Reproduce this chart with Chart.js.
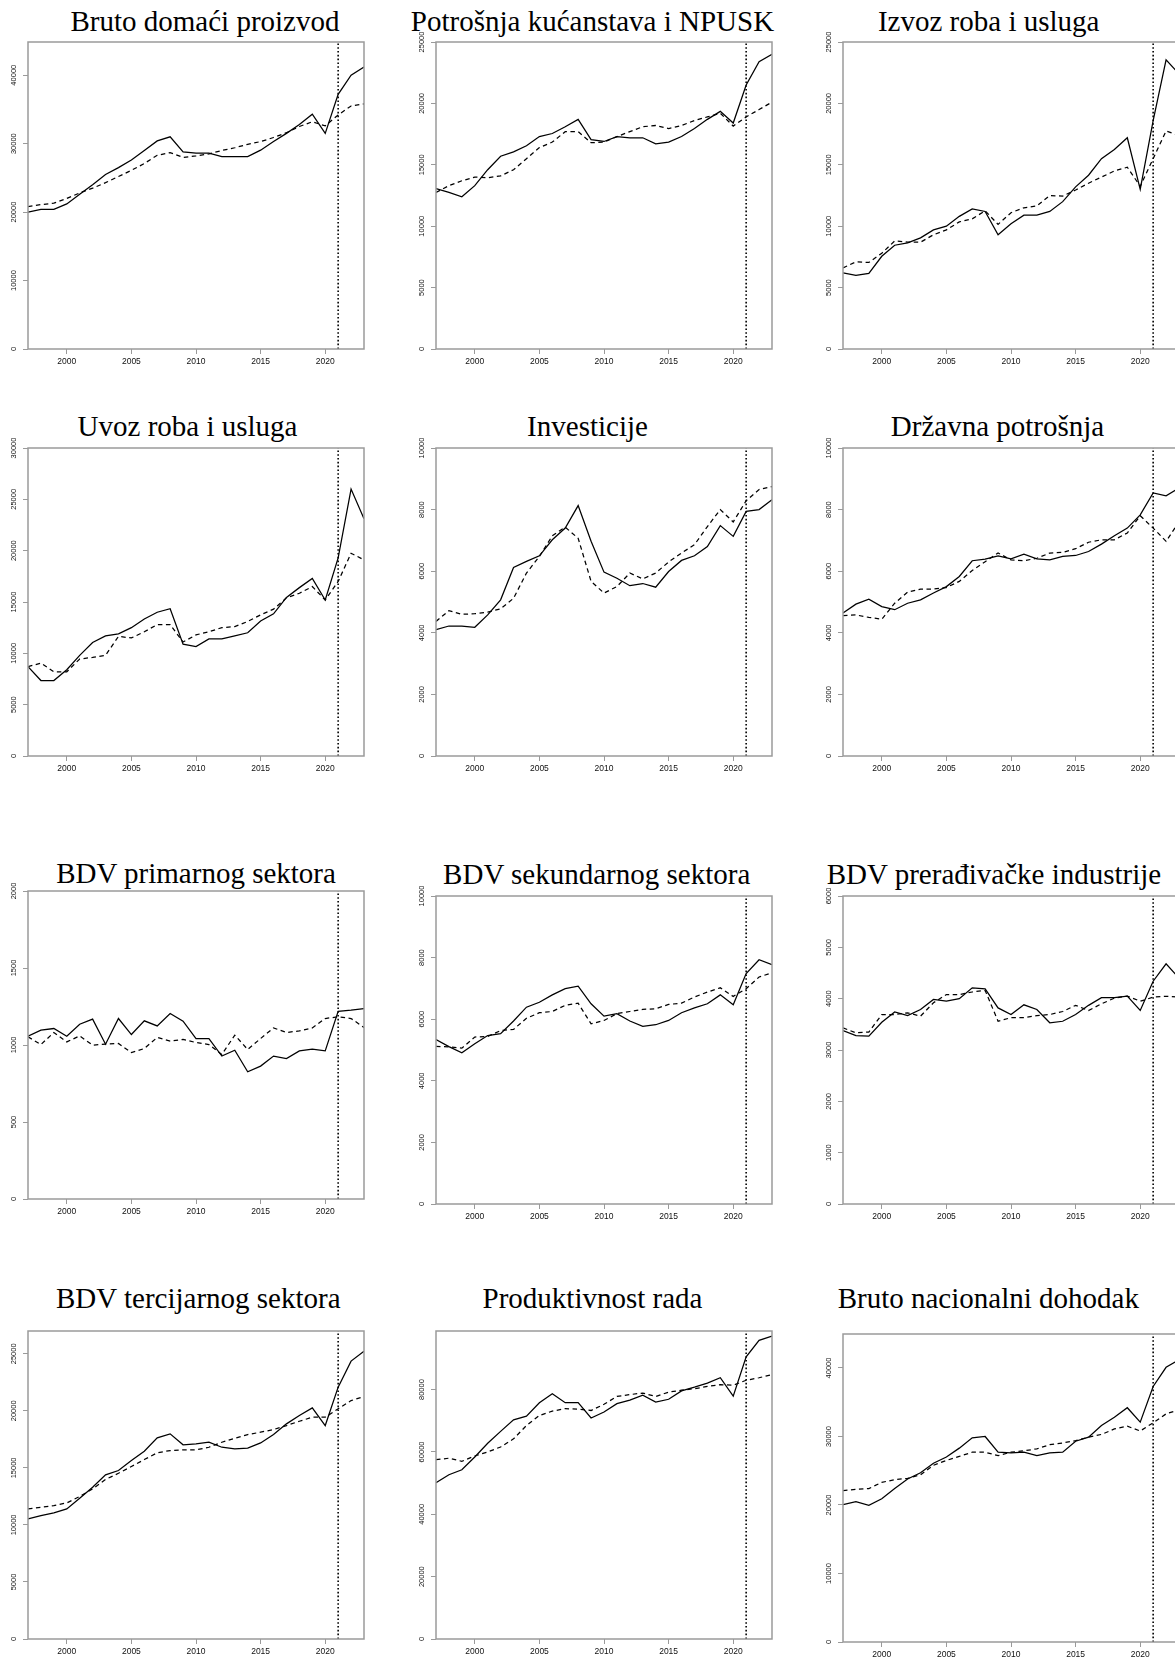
<!DOCTYPE html>
<html>
<head>
<meta charset="utf-8">
<script src="https://cdn.jsdelivr.net/npm/chart.js@4.4.1/dist/chart.umd.min.js"></script>
<style>
html, body { margin: 0; padding: 0; background: #fff; }
body { width: 1175px; height: 1661px; overflow: hidden; position: relative; }
.panel { position: absolute; }
.ttl {
  position: absolute; white-space: nowrap; color: #000;
  font-family: "Liberation Serif", "Times New Roman", serif;
  font-size: 29px; line-height: 29px; transform: translateX(-50%);
}
</style>
</head>
<body>
<script>
// years on the x axis and the start of the forecast (dotted line)
const years = [1997,1998,1999,2000,2001,2002,2003,2004,2005,2006,2007,2008,2009,2010,2011,2012,2013,2014,2015,2016,2017,2018,2019,2020,2021,2022,2023];
const forecastStart = 2021;
const xTicks = [2000, 2005, 2010, 2015, 2020];

const titles = [
  "Bruto domaći proizvod", "Potrošnja kućanstava i NPUSK", "Izvoz roba i usluga",
  "Uvoz roba i usluga", "Investicije", "Državna potrošnja",
  "BDV primarnog sektora", "BDV sekundarnog sektora", "BDV prerađivačke industrije",
  "BDV tercijarnog sektora", "Produktivnost rada", "Bruto nacionalni dohodak"
];

// solid = actual, dashed = model
const bdpActual = [20000,20400,20400,21200,22600,24000,25500,26500,27600,29000,30400,31000,28800,28600,28600,28100,28100,28100,29050,30300,31500,32800,34300,31500,37200,40000,41200];
const bdpModel = [20800,21100,21300,22000,22800,23500,24300,25200,26100,27100,28300,28700,28000,28200,28500,29000,29400,29900,30300,30900,31600,32500,33200,32600,34200,35500,35800];

const potrosnjaActual = [13070,12750,12400,13300,14600,15700,16050,16550,17300,17550,18100,18700,17050,16900,17300,17200,17200,16700,16850,17300,17950,18700,19350,18400,21500,23400,24000];
const potrosnjaModel = [12750,13300,13700,14000,13950,14100,14600,15500,16400,16850,17700,17700,16800,16850,17300,17700,18100,18200,17950,18200,18600,18900,19200,18150,18900,19500,20100];

const izvozActual = [6200,6000,6150,7550,8450,8650,9050,9700,10000,10800,11400,11200,9300,10200,10900,10900,11200,12000,13200,14150,15500,16250,17200,13000,18600,23550,22400];
const izvozModel = [6600,7100,7050,7800,8800,8700,8700,9300,9700,10350,10600,11250,10150,11100,11500,11650,12500,12450,12950,13500,14000,14500,14800,13250,15500,17750,17400];

const uvozActual = [8700,7350,7350,8400,9800,11050,11700,11900,12500,13350,14000,14350,10900,10650,11400,11400,11700,12000,13150,13850,15450,16400,17300,15200,19300,26000,23100];
const uvozModel = [8700,9050,8200,8200,9450,9600,9800,11650,11500,12100,12800,12800,11100,11800,12100,12500,12600,13100,13750,14300,15400,15850,16500,15200,17000,19750,19100];

const investActual = [4100,4220,4220,4180,4580,5070,6120,6320,6500,7020,7400,8130,6970,5970,5770,5530,5600,5480,5990,6350,6500,6800,7480,7130,7940,8000,8320];
const investModel = [4370,4720,4600,4620,4670,4780,5120,5940,6480,7150,7430,7070,5670,5290,5500,5940,5750,5940,6300,6590,6860,7450,8000,7600,8290,8650,8750];

const drzavnaActual = [4640,4930,5090,4850,4750,4960,5070,5290,5500,5830,6340,6390,6500,6400,6550,6400,6370,6480,6510,6640,6880,7150,7400,7830,8540,8450,8700];
const drzavnaModel = [4560,4580,4500,4440,4960,5320,5420,5420,5470,5670,6020,6310,6590,6370,6340,6420,6590,6610,6730,6940,7020,7020,7240,7800,7400,6970,7600];

const primarniActual = [1057,1096,1107,1057,1135,1168,1005,1172,1068,1157,1124,1204,1155,1042,1042,928,966,826,863,928,912,962,973,962,1219,1226,1237];
const primarniModel = [1053,1003,1081,1020,1059,999,1005,1010,951,977,1049,1025,1036,1016,1003,938,1064,971,1042,1111,1081,1092,1111,1172,1183,1172,1114];

const sekundarniActual = [5340,5110,4910,5200,5470,5530,5940,6390,6550,6790,6990,7070,6500,6100,6180,5940,5770,5820,5960,6210,6370,6500,6790,6470,7480,7930,7770];
const sekundarniModel = [5120,5100,5060,5420,5440,5630,5670,6030,6210,6250,6450,6520,5850,5960,6180,6250,6320,6340,6480,6520,6720,6880,7020,6740,6990,7370,7510];

const preradActual = [3380,3280,3270,3540,3740,3670,3790,3985,3950,4000,4210,4190,3820,3690,3880,3790,3530,3560,3690,3870,4020,4020,4050,3770,4340,4680,4400];
const preradModel = [3430,3335,3350,3690,3690,3725,3660,3920,4080,4080,4130,4160,3560,3630,3630,3670,3690,3750,3870,3770,3900,4010,4050,3950,4030,4045,4030];

const tercijarniActual = [10530,10820,11050,11400,12340,13300,14390,14770,15640,16460,17630,17980,17020,17100,17250,16810,16670,16730,17190,17920,18860,19590,20260,18710,22080,24360,25230];
const tercijarniModel = [11400,11550,11700,11930,12490,13160,13980,14530,15120,15730,16320,16520,16580,16580,16810,17250,17600,17920,18130,18360,18710,19090,19440,19440,20180,20900,21260];

const produktivnostActual = [50100,52700,54300,58400,62800,66600,70300,71500,75800,78700,75800,75800,70900,72800,75500,76600,78200,76000,76900,79600,80800,82100,83800,77900,90500,95800,97200];
const produktivnostModel = [57500,58000,57000,58700,60000,61600,64200,68500,71700,73100,73900,73700,73300,75300,77800,78400,78900,77800,79200,79800,80300,81000,81600,81400,83000,83800,84800];

const bndActual = [20050,20500,19950,20900,22400,23800,24700,26100,27000,28300,29800,30000,27700,27600,27700,27200,27600,27700,29300,29900,31600,32800,34200,32100,37300,40100,41200];
const bndModel = [22100,22300,22400,23300,23700,23900,24400,25800,26500,27100,27700,27700,27200,27700,27900,28200,28800,29050,29400,29900,30300,31100,31500,30800,32000,33300,33900];

const actualSeries = [bdpActual, potrosnjaActual, izvozActual, uvozActual, investActual, drzavnaActual,
  primarniActual, sekundarniActual, preradActual, tercijarniActual, produktivnostActual, bndActual];
const modelSeries = [bdpModel, potrosnjaModel, izvozModel, uvozModel, investModel, drzavnaModel,
  primarniModel, sekundarniModel, preradModel, tercijarniModel, produktivnostModel, bndModel];

// y axis top and tick labels per panel
const yMax = [44850, 25000, 25000, 30000, 10000, 10000, 2000, 10000, 6000, 27000, 98800, 44960];
const yTicks = [
  [0, 10000, 20000, 30000, 40000],
  [0, 5000, 10000, 15000, 20000, 25000],
  [0, 5000, 10000, 15000, 20000, 25000],
  [0, 5000, 10000, 15000, 20000, 25000, 30000],
  [0, 2000, 4000, 6000, 8000, 10000],
  [0, 2000, 4000, 6000, 8000, 10000],
  [0, 500, 1000, 1500, 2000],
  [0, 2000, 4000, 6000, 8000, 10000],
  [0, 1000, 2000, 3000, 4000, 5000, 6000],
  [0, 5000, 10000, 15000, 20000, 25000],
  [0, 20000, 40000, 60000, 80000],
  [0, 10000, 20000, 30000, 40000]
];

// layout: plot area [left, top, width, height] and title [centerX, baseline]
const plotBoxes = [
  [28, 41.7, 335.5, 307.3], [435.7, 41.7, 336, 307.3], [843.3, 41.7, 336, 307.3],
  [28, 448.3, 335.5, 307.7], [435.7, 448.3, 336, 307.7], [843.3, 448.3, 336, 307.7],
  [28, 890.7, 336, 308.3], [435.7, 895.7, 336, 307.6], [843.3, 895.7, 336, 307.6],
  [28, 1330.7, 335.5, 307.6], [435.7, 1330.7, 336, 307.6], [843.3, 1334.3, 336, 308]
];
const titleSpots = [
  [205, 31.7], [592.5, 31.7], [988.7, 31.7],
  [187.5, 436.7], [587.5, 436.7], [997.5, 436.7],
  [196, 883.3], [596.7, 884.3], [994, 884.3],
  [198.3, 1308.3], [592.5, 1308.3], [988.3, 1308.3]
];

const Y_W = 30, X_H = 26, PAD_T = 14, PAD_R = 6, TICK = 5;
const grey = '#9a9a9a';
const tickFont = '"Liberation Sans", Arial, sans-serif';

const measure = document.createElement('canvas').getContext('2d');
measure.font = '7.5px "Liberation Sans", Arial, sans-serif';

const framePlugin = {
  id: 'frame',
  afterDraw(chart) {
    const a = chart.chartArea, ctx = chart.ctx;
    ctx.save();
    ctx.strokeStyle = grey;
    ctx.lineWidth = 1.5;
    ctx.strokeRect(a.left, a.top, a.right - a.left, a.bottom - a.top);
    ctx.restore();
  }
};

titles.forEach((t, i) => {
  const [cx, base] = titleSpots[i];
  const d = document.createElement('div');
  d.className = 'ttl';
  d.textContent = t;
  d.style.left = cx + 'px';
  d.style.top = (base - 24.3) + 'px';
  document.body.appendChild(d);

  const [l, tp, w, h] = plotBoxes[i];
  const wrap = document.createElement('div');
  wrap.className = 'panel';
  wrap.style.left = (l - Y_W) + 'px';
  wrap.style.top = (tp - PAD_T) + 'px';
  const cv = document.createElement('canvas');
  cv.width = Math.round(Y_W + w + PAD_R);
  cv.height = Math.round(PAD_T + h + X_H);
  wrap.appendChild(cv);
  document.body.appendChild(wrap);

  const widest = Math.max(...yTicks[i].map(v => measure.measureText(String(v)).width));
  const yPad = 14.5 - TICK - widest / 2;

  new Chart(cv, {
    type: 'line',
    data: {
      datasets: [
        { data: years.map((y, k) => ({ x: y, y: actualSeries[i][k] })),
          borderColor: '#000', borderWidth: 1.25, pointRadius: 0, tension: 0 },
        { data: years.map((y, k) => ({ x: y, y: modelSeries[i][k] })),
          borderColor: '#000', borderWidth: 1.25, borderDash: [4.5, 3.5], pointRadius: 0, tension: 0 },
        { data: [{ x: forecastStart, y: 0 }, { x: forecastStart, y: yMax[i] }],
          borderColor: '#000', borderWidth: 1.6, borderDash: [1.6, 2.2], pointRadius: 0 }
      ]
    },
    options: {
      responsive: false,
      animation: false,
      events: [],
      layout: { padding: { top: PAD_T, right: PAD_R, left: 0, bottom: 0 } },
      plugins: { legend: { display: false }, tooltip: { enabled: false } },
      scales: {
        x: {
          type: 'linear', min: years[0], max: years[years.length - 1],
          afterBuildTicks: s => { s.ticks = xTicks.map(v => ({ value: v })); },
          afterFit: s => { s.height = X_H; },
          grid: { display: true, drawOnChartArea: false, drawTicks: true, tickLength: TICK, color: grey, lineWidth: 1 },
          border: { display: false },
          ticks: { autoSkip: false, maxRotation: 0, padding: 3, color: '#111',
                   font: { family: tickFont, size: 8.5 },
                   callback: v => String(v) }
        },
        y: {
          type: 'linear', min: 0, max: yMax[i],
          afterBuildTicks: s => { s.ticks = yTicks[i].map(v => ({ value: v })); },
          afterFit: s => { s.width = Y_W; },
          grid: { display: true, drawOnChartArea: false, drawTicks: true, tickLength: TICK, color: grey, lineWidth: 1 },
          border: { display: false },
          ticks: { autoSkip: false, minRotation: 90, maxRotation: 90, crossAlign: 'center', padding: yPad,
                   color: '#111', font: { family: tickFont, size: 7.5 },
                   callback: v => String(v) }
        }
      }
    },
    plugins: [framePlugin]
  });
});
</script>
</body>
</html>
